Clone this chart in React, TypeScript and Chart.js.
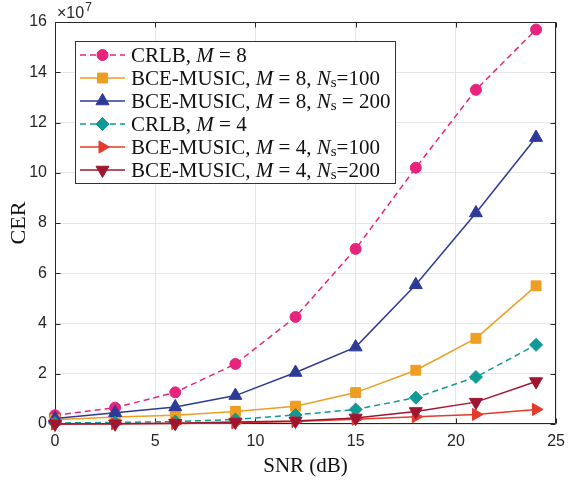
import React, { useEffect, useRef } from 'react';
import { Chart, registerables } from 'chart.js';
import { drawPoint } from 'chart.js/helpers';

Chart.register(...registerables);

// SNR values (dB)
const snr = [0, 3, 6, 9, 12, 15, 18, 21, 24];
// CER values in units of 1e7
const crlbM8 = [0.35, 0.65, 1.26, 2.39, 4.26, 6.97, 10.2, 13.3, 15.7];
const bceM8N100 = [0.17, 0.28, 0.35, 0.5, 0.71, 1.25, 2.14, 3.41, 5.5];
const bceM8N200 = [0.22, 0.45, 0.68, 1.13, 2.05, 3.06, 5.54, 8.4, 11.4];
const crlbM4 = [0.04, 0.06, 0.1, 0.18, 0.36, 0.58, 1.05, 1.87, 3.15];
const bceM4N100 = [0.0, 0.01, 0.02, 0.05, 0.1, 0.19, 0.29, 0.38, 0.58];
const bceM4N200 = [0.0, 0.01, 0.03, 0.08, 0.12, 0.24, 0.5, 0.87, 1.69];

const xTicks = [0, 5, 10, 15, 20, 25];
const yTicks = [0, 2, 4, 6, 8, 10, 12, 14, 16];
const yExponent = '7';
const xTitle = 'SNR (dB)';
const yTitle = 'CER';

type Seg = { t: string; k: 'r' | 'i' | 's' };
const legendTexts: Seg[][] = [
  [{ t: 'CRLB, ', k: 'r' }, { t: 'M', k: 'i' }, { t: ' = 8', k: 'r' }],
  [{ t: 'BCE-MUSIC, ', k: 'r' }, { t: 'M', k: 'i' }, { t: ' = 8, ', k: 'r' }, { t: 'N', k: 'i' }, { t: 's', k: 's' }, { t: '=100', k: 'r' }],
  [{ t: 'BCE-MUSIC, ', k: 'r' }, { t: 'M', k: 'i' }, { t: ' = 8, ', k: 'r' }, { t: 'N', k: 'i' }, { t: 's', k: 's' }, { t: ' = 200', k: 'r' }],
  [{ t: 'CRLB, ', k: 'r' }, { t: 'M', k: 'i' }, { t: ' = 4', k: 'r' }],
  [{ t: 'BCE-MUSIC, ', k: 'r' }, { t: 'M', k: 'i' }, { t: ' = 4, ', k: 'r' }, { t: 'N', k: 'i' }, { t: 's', k: 's' }, { t: '=100', k: 'r' }],
  [{ t: 'BCE-MUSIC, ', k: 'r' }, { t: 'M', k: 'i' }, { t: ' = 4, ', k: 'r' }, { t: 'N', k: 'i' }, { t: 's', k: 's' }, { t: '=200', k: 'r' }],
];

const colors = ['#E6247E', '#EE9E22', '#2E3A98', '#0F9A96', '#E63A2A', '#A01631'];
const styles = ['circle', 'rect', 'triangle', 'rectRot', 'triangle', 'triangle'];
const rotations = [0, 0, 0, 0, 90, 180];
const radii = [5.5, 7, 7.5, 6.5, 7, 7.5];
const dashes: number[][] = [[6, 4], [], [], [6, 4], [], []];
const seriesData = [crlbM8, bceM8N100, bceM8N200, crlbM4, bceM4N100, bceM4N200];

const SERIF = '"Liberation Serif", "Times New Roman", serif';
const SANS = '"Liberation Sans", Arial, sans-serif';
const AX = '#262626';

function drawSegs(ctx: CanvasRenderingContext2D, segs: Seg[], x: number, y: number) {
  let cx = x;
  for (const s of segs) {
    if (s.k === 'r') ctx.font = `21px ${SERIF}`;
    else if (s.k === 'i') ctx.font = `italic 21px ${SERIF}`;
    else ctx.font = `15px ${SERIF}`;
    const dy = s.k === 's' ? 4 : 0;
    ctx.fillText(s.t, cx, y + dy);
    cx += ctx.measureText(s.t).width;
  }
}

const boxPlugin = {
  id: 'boxPlugin',
  beforeDatasetsDraw(chart: any) {
    const { ctx, chartArea: a, scales } = chart;
    ctx.save();
    ctx.strokeStyle = AX;
    ctx.lineWidth = 1;
    const L = Math.round(a.left) + 0.5, R = Math.round(a.right) - 0.5;
    const T = Math.round(a.top) + 0.5, B = Math.round(a.bottom) - 0.5;
    ctx.beginPath();
    ctx.rect(L, T, R - L, B - T);
    const tl = 5;
    for (const v of xTicks) {
      const px = Math.round(scales.x.getPixelForValue(v)) + 0.5;
      ctx.moveTo(px, B); ctx.lineTo(px, B - tl);
      ctx.moveTo(px, T); ctx.lineTo(px, T + tl);
    }
    for (const v of yTicks) {
      const py = Math.round(scales.y.getPixelForValue(v)) + 0.5;
      ctx.moveTo(L, py); ctx.lineTo(L + tl, py);
      ctx.moveTo(R, py); ctx.lineTo(R - tl, py);
    }
    ctx.stroke();
    // exponent label
    ctx.fillStyle = AX;
    ctx.textBaseline = 'alphabetic';
    ctx.font = `16px ${SANS}`;
    const bx = a.left + 2;
    ctx.fillText('×10', bx, 18);
    const w = ctx.measureText('×10').width;
    ctx.font = `12px ${SANS}`;
    ctx.fillText(yExponent, bx + w + 1, 11);
    ctx.restore();
  },
  afterDraw(chart: any) {
    const { ctx } = chart;
    ctx.save();
    const bx = 75.5, by = 41.5, bw = 320, bh = 142;
    ctx.fillStyle = '#ffffff';
    ctx.fillRect(bx, by, bw, bh);
    ctx.strokeStyle = '#333333';
    ctx.lineWidth = 1;
    ctx.strokeRect(bx, by, bw, bh);
    const rowY = [55, 78, 101, 124, 147, 170];
    for (let i = 0; i < 6; i++) {
      const y = rowY[i];
      ctx.strokeStyle = colors[i];
      ctx.lineWidth = 1.5;
      ctx.setLineDash(dashes[i]);
      ctx.beginPath();
      ctx.moveTo(80, y);
      ctx.lineTo(125, y);
      ctx.stroke();
      ctx.setLineDash([]);
      ctx.fillStyle = colors[i];
      ctx.strokeStyle = colors[i];
      ctx.lineWidth = 1;
      drawPoint(ctx, { pointStyle: styles[i] as any, rotation: rotations[i], radius: radii[i], borderWidth: 1 }, 102.5, y);
      ctx.fillStyle = '#111111';
      ctx.textBaseline = 'middle';
      drawSegs(ctx, legendTexts[i], 131, y + 1);
    }
    ctx.restore();
  },
};

export default function App() {
  const ref = useRef<HTMLCanvasElement>(null);
  useEffect(() => {
    if (!ref.current) return;
    const datasets = seriesData.map((d, i) => ({
      label: legendTexts[i].map((s) => s.t).join(''),
      data: snr.map((x, j) => ({ x, y: d[j] })),
      borderColor: colors[i],
      backgroundColor: colors[i],
      borderWidth: 1.5,
      borderDash: dashes[i],
      pointStyle: styles[i] as any,
      rotation: rotations[i],
      pointRadius: radii[i],
      pointBorderWidth: 1,
      pointBackgroundColor: colors[i],
      pointBorderColor: colors[i],
      tension: 0,
      clip: false as any,
      order: 5 - i,
    }));
    const chart = new Chart(ref.current, {
      type: 'line',
      data: { datasets },
      options: {
        animation: false,
        responsive: false,
        events: [],
        layout: { padding: { top: 22, right: 8, left: 0, bottom: 0 } },
        plugins: { legend: { display: false }, tooltip: { enabled: false } },
        scales: {
          x: {
            type: 'linear',
            min: 0,
            max: 25,
            afterBuildTicks: (s: any) => { s.ticks = xTicks.map((v) => ({ value: v })); },
            afterFit: (s: any) => { s.height = 58; },
            grid: { color: '#e6e6e6', drawTicks: false, lineWidth: 1 },
            border: { display: false },
            ticks: { padding: 8, color: AX, font: { family: SANS, size: 16 }, maxRotation: 0 },
            title: { display: true, text: xTitle, color: '#111', font: { family: SERIF, size: 21 }, padding: { top: 0, bottom: 3 } },
          },
          y: {
            type: 'linear',
            min: 0,
            max: 16,
            afterBuildTicks: (s: any) => { s.ticks = yTicks.map((v) => ({ value: v })); },
            afterFit: (s: any) => { s.width = 55; },
            grid: { color: '#e6e6e6', drawTicks: false, lineWidth: 1 },
            border: { display: false },
            ticks: { padding: 8, color: AX, font: { family: SANS, size: 16 } },
            title: { display: true, text: yTitle, color: '#111', font: { family: SERIF, size: 22 }, padding: { top: 6, bottom: 0 } },
          },
        },
      },
      plugins: [boxPlugin],
    });
    return () => chart.destroy();
  }, []);
  return (
    <div style={{ position: 'absolute', left: 0, top: 0, width: 573, height: 482, background: '#fff' }}>
      <canvas ref={ref} width={573} height={482} style={{ display: 'block' }} />
    </div>
  );
}
